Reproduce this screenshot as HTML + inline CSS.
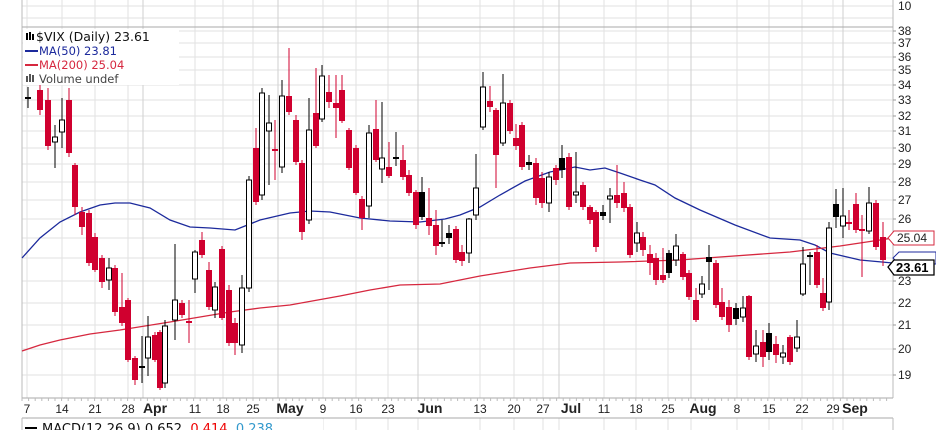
<!DOCTYPE html>
<html><head><meta charset="utf-8"><style>
html,body{margin:0;padding:0;background:#fff;width:936px;height:430px;overflow:hidden}
svg{display:block;font-family:"Liberation Sans",Arial,sans-serif}
</style></head><body>
<svg id="c" width="936" height="430" xmlns="http://www.w3.org/2000/svg"></svg>
<script>
var s='';
function L(x1,y1,x2,y2,c,w){s+='<line x1="'+x1+'" y1="'+y1+'" x2="'+x2+'" y2="'+y2+'" stroke="'+c+'" stroke-width="'+(w||1)+'"/>';}
function T(x,y,t,o){s+='<text x="'+x+'" y="'+y+'" '+(o||'')+'>'+t+'</text>';}
var ys={38:31,37:43,36:57,35:70,34:85,33:100,32:116,31:131,30:148,29:164,28:182,27:200,26:219,25:238,24:258,23:281,22:303,21:325,20:349,19:375};
for(var k in ys){L(22,ys[k],893,ys[k],'#e2e2e2');}
L(22,6,893,6,'#e2e2e2');L(22,18,893,18,'#e2e2e2');
var xs=[[27,'7'],[62,'14'],[95,'21'],[128,'28'],[155,'Apr',1],[195,'11'],[223,'18'],[253,'25'],[290,'May',1],[323,'9'],[356,'16'],[388,'23'],[430,'Jun',1],[480,'13'],[514,'20'],[543,'27'],[571,'Jul',1],[604,'11'],[636,'18'],[668,'25'],[703,'Aug',1],[737,'8'],[769,'15'],[802,'22'],[833,'29'],[855,'Sep',1]];
xs.forEach(function(a){var x=a[2]?a[0]-12:a[0];L(x,0,x,398,a[2]?'#cfcfcf':'#e2e2e2');L(x,418,x,430,'#e2e2e2');});
L(22,0,22,398,'#bbb');L(893,0,893,398,'#bbb');L(22,27,893,27,'#aaa');L(22,398,893,398,'#aaa');
L(22,418,893,418,'#aaa');L(22,418,22,430,'#bbb');L(893,418,893,430,'#bbb');
for(var x=22;x<893;x+=6.6){L(x,398,x,401,'#bbb');}
function P(pts,c){s+='<polyline fill="none" stroke="'+c+'" stroke-width="1.3" points="'+pts.map(function(p){return p.join(',')}).join(' ')+'"/>';}
P([[22,258],[40,238],[60,222],[80,212],[100,205],[115,203],[130,203],[150,208],[170,220],[190,227],[210,228],[235,230],[260,220],[290,213],[310,211],[330,212],[360,218],[390,221],[420,222],[445,219],[460,215],[480,207],[500,195],[525,181],[550,172],[575,167],[590,170],[605,168],[620,173],[640,180],[655,185],[675,198],[700,210],[735,225],[770,238],[800,240],[815,245],[830,253],[860,260],[893,263]],'#1c2a9c');
P([[22,351],[40,345],[60,340],[90,334],[120,330],[170,322],[230,312],[260,308],[290,305],[340,296],[370,290],[400,285],[440,284],[480,276],[530,268],[570,263],[620,262],[680,260],[720,257],[790,252],[840,246],[880,240],[893,238]],'#d6283f');
var C=[[28,97,99,87,108,'b'],[40,90,110,85,115,'r'],[48,100,146,88,150,'r'],[55,137,142,125,168,'h'],[62,120,132,98,148,'h'],[69,100,153,88,157,'r'],[75,165,207,163,215,'r'],[82,212,227,207,235,'r'],[89,213,263,210,266,'r'],[95,237,270,233,272,'r'],[102,258,282,255,288,'r'],[109,268,280,258,290,'h'],[115,268,312,265,316,'r'],[122,307,323,273,326,'r'],[128,300,360,298,362,'r'],[135,358,380,356,385,'r'],[142,366,368,336,383,'b'],[148,337,358,316,376,'h'],[155,335,360,332,362,'r'],[160,332,388,330,390,'r'],[165,326,383,320,388,'h'],[175,300,320,244,340,'h'],[182,303,315,300,318,'r'],[189,321,323,300,343,'r'],[195,252,279,250,293,'h'],[202,240,255,232,258,'r'],[209,270,307,262,310,'r'],[215,287,310,282,318,'h'],[222,249,318,246,320,'r'],[229,290,343,285,346,'r'],[235,323,343,318,355,'r'],[242,288,345,275,353,'h'],[249,180,288,176,292,'h'],[256,148,202,128,205,'r'],[262,93,195,88,200,'h'],[269,123,131,95,185,'h'],[275,149,151,120,180,'r'],[282,96,167,80,173,'h'],[289,96,112,48,115,'r'],[296,120,162,115,165,'r'],[302,163,232,160,240,'r'],[309,130,220,98,224,'h'],[316,113,146,68,148,'r'],[322,76,119,65,122,'h'],[329,92,102,75,108,'r'],[336,103,108,75,138,'r'],[342,90,121,75,123,'r'],[349,130,168,128,170,'r'],[356,148,193,145,195,'r'],[362,199,218,196,230,'r'],[369,133,206,125,218,'h'],[376,129,160,100,162,'r'],[382,158,169,102,183,'h'],[389,167,176,142,178,'r'],[396,157,159,132,166,'b'],[403,160,177,145,180,'r'],[409,175,193,170,196,'r'],[416,192,225,190,229,'r'],[422,192,217,177,220,'b'],[429,218,226,188,235,'r'],[436,225,246,210,255,'r'],[442,242,244,220,247,'b'],[449,233,238,225,244,'b'],[456,229,260,226,263,'r'],[462,252,261,245,266,'r'],[469,219,253,218,263,'h'],[476,188,215,154,220,'h'],[483,87,127,72,130,'h'],[490,101,107,86,112,'r'],[496,110,155,108,188,'r'],[503,103,143,74,146,'h'],[510,103,131,100,134,'r'],[516,138,146,124,150,'r'],[522,125,167,122,170,'r'],[529,162,165,155,170,'b'],[536,163,198,158,205,'r'],[542,178,203,172,208,'r'],[549,177,203,172,212,'h'],[556,168,180,165,185,'r'],[562,158,170,145,178,'b'],[569,157,207,153,210,'r'],[576,192,195,152,203,'h'],[583,185,207,182,210,'r'],[590,207,220,205,224,'r'],[596,212,247,210,252,'r'],[603,212,216,205,220,'b'],[610,196,199,188,223,'h'],[617,195,203,165,208,'r'],[624,193,208,182,212,'r'],[630,207,255,204,258,'r'],[637,233,243,222,252,'h'],[643,237,250,232,256,'r'],[650,254,263,245,275,'r'],[656,258,280,253,285,'r'],[663,275,280,248,283,'r'],[669,253,273,250,278,'b'],[676,246,260,234,266,'h'],[683,254,277,252,280,'r'],[689,273,297,270,300,'r'],[696,300,320,288,322,'r'],[702,284,294,276,298,'h'],[709,257,262,245,290,'b'],[716,263,305,260,308,'r'],[722,302,317,288,320,'r'],[729,307,325,300,332,'r'],[736,308,319,303,325,'b'],[743,308,317,296,322,'h'],[749,296,357,295,360,'r'],[756,346,354,330,362,'h'],[763,342,357,330,367,'r'],[769,333,352,323,360,'b'],[776,344,355,336,363,'r'],[783,353,357,345,364,'h'],[790,337,362,335,365,'r'],[797,337,348,320,352,'h'],[803,264,294,247,296,'h'],[810,255,257,252,285,'b'],[817,252,285,245,288,'r'],[823,293,308,278,311,'r'],[829,228,302,222,310,'h'],[836,204,217,189,228,'b'],[843,216,226,188,238,'h'],[849,222,224,210,230,'r'],[856,204,230,193,233,'r'],[862,229,231,215,277,'r'],[869,203,231,187,234,'h'],[876,203,247,200,250,'r'],[883,237,260,222,266,'r']];
C.forEach(function(c){var col=c[5]=='r'?'#d0002f':'#000';L(c[0],c[3],c[0],c[4],col);
 var h=Math.max(c[2]-c[1],1.5);
 if(c[5]=='h')s+='<rect x="'+(c[0]-2.5)+'" y="'+c[1]+'" width="5" height="'+h+'" fill="#fff" stroke="#000" stroke-width="1"/>';
 else s+='<rect x="'+(c[0]-3)+'" y="'+c[1]+'" width="6" height="'+h+'" fill="'+col+'"/>';});
for(var k in ys){if(k==25||k==24)continue;T(898,ys[k]+4,k,'font-size="12" fill="#222"');}
T(898,10,'10','font-size="12" fill="#222"');
for(var k in ys)L(893,ys[k],896,ys[k],'#999');
s+='<polygon points="893,258 899,252 936,252 936,264 899,264" fill="#fff" stroke="#1c2a9c"/>';
s+='<polygon points="888,238 894,231 934,231 934,245 894,245" fill="#fff" stroke="#d6283f"/>';
T(897,242,'25.04','font-size="12" fill="#222"');
s+='<polygon points="888,267 894,260 934,260 934,275 894,275" fill="#fff" stroke="#000" stroke-width="1.3"/>';
T(896,272,'23.61','font-size="13" font-weight="bold" fill="#000"');
xs.forEach(function(a){T(a[0],413,a[1],'font-size="'+(a[2]?14:12)+'" text-anchor="middle" fill="#222" '+(a[2]?'font-weight="bold"':''));});
var F='font-family="DejaVu Sans,Verdana,sans-serif"';
s+='<rect x="23" y="29" width="156" height="56" fill="#fff"/>';
s+='<rect x="26" y="33" width="2" height="7" fill="#000"/><rect x="29" y="32" width="2" height="8" fill="#000"/><rect x="32" y="34" width="2" height="6" fill="#000"/>';
T(36,41,'$VIX (Daily) 23.61',F+' font-size="12.5" fill="#111"');
L(25,51,38,51,'#1c2a9c',2);T(39,55,'MA(50) 23.81',F+' font-size="11.5" fill="#1c2a9c"');
L(25,65,38,65,'#d6283f',2);T(39,69,'MA(200) 25.04',F+' font-size="11.5" fill="#d6283f"');
s+='<rect x="26" y="76" width="2" height="6" fill="#555"/><rect x="29" y="74" width="2" height="8" fill="#555"/><rect x="32" y="75" width="2" height="7" fill="#555"/>';
T(39,83,'Volume undef',F+' font-size="11.5" fill="#444"');
s+='<rect x="23" y="419" width="300" height="11" fill="#fff"/>';
L(25,428,37,428,'#000',2);
T(42,433,'MACD(12,26,9) 0.652, <tspan fill="#e00">0.414</tspan>, <tspan fill="#39c">0.238</tspan>',F+' font-size="13" fill="#111"');
document.getElementById('c').innerHTML=s;
</script>
</body></html>
